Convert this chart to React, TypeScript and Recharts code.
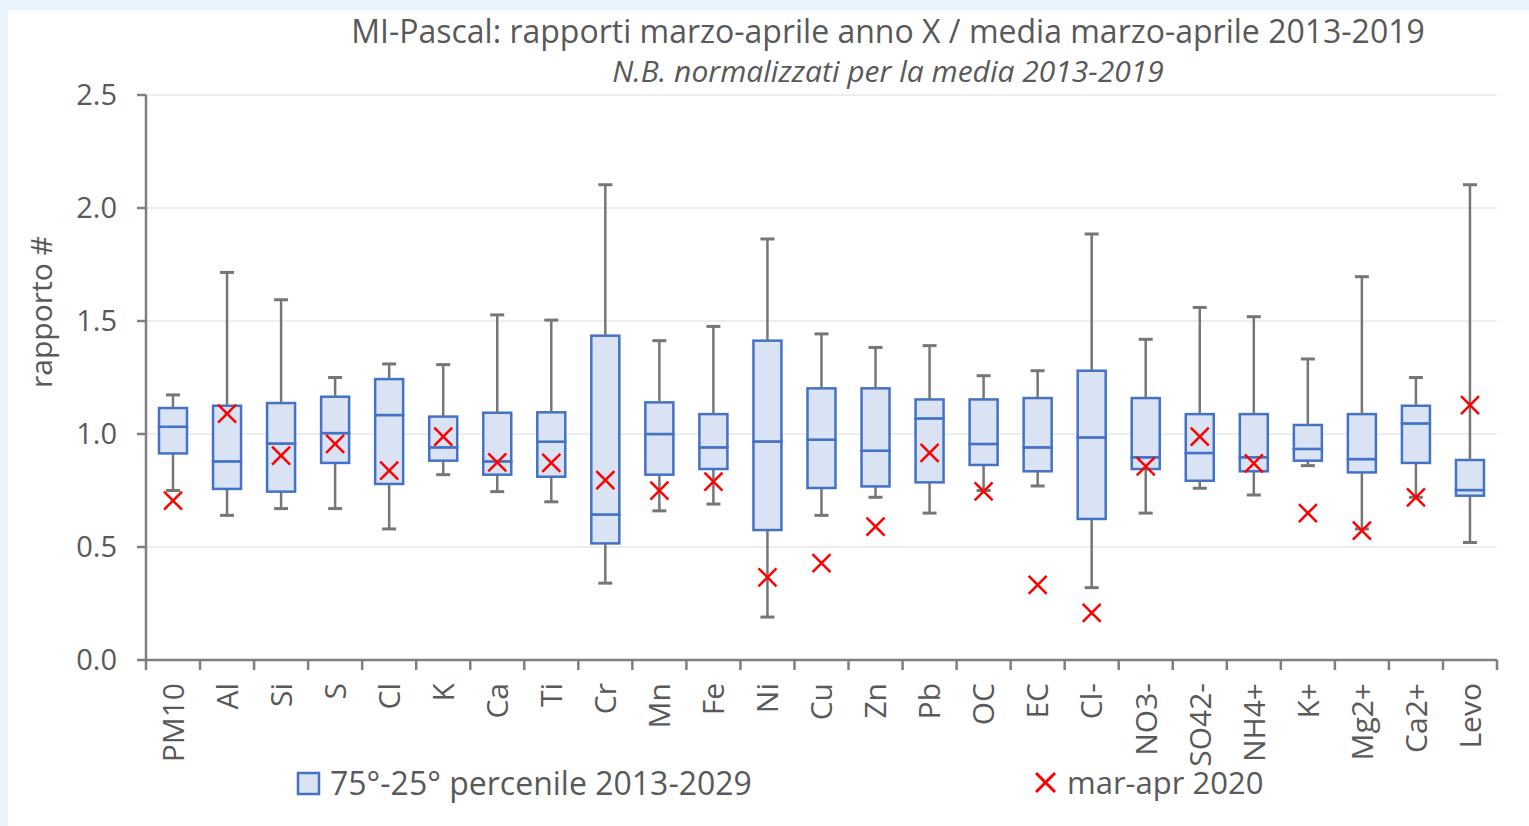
import React from 'react';
import { ComposedChart, Bar, Scatter, XAxis, YAxis, CartesianGrid } from 'recharts';

const categories = ['PM10', 'Al', 'Si', 'S', 'Cl', 'K', 'Ca', 'Ti', 'Cr', 'Mn', 'Fe', 'Ni', 'Cu', 'Zn', 'Pb', 'OC', 'EC', 'Cl-', 'NO3-', 'SO42-', 'NH4+', 'K+', 'Mg2+', 'Ca2+', 'Levo'];
const whiskerMin = [0.75, 0.64, 0.67, 0.67, 0.58, 0.82, 0.745, 0.7, 0.34, 0.66, 0.69, 0.19, 0.64, 0.72, 0.65, 0.75, 0.77, 0.32, 0.65, 0.76, 0.73, 0.86, 0.58, 0.72, 0.52];
const q1 = [0.914, 0.757, 0.745, 0.872, 0.779, 0.882, 0.82, 0.811, 0.516, 0.82, 0.845, 0.575, 0.761, 0.768, 0.786, 0.863, 0.835, 0.624, 0.845, 0.793, 0.835, 0.882, 0.83, 0.872, 0.727];
const median = [1.032, 0.879, 0.958, 1.004, 1.084, 0.941, 0.879, 0.966, 0.644, 1.0, 0.941, 0.967, 0.975, 0.926, 1.069, 0.956, 0.941, 0.985, 0.897, 0.916, 0.897, 0.934, 0.889, 1.047, 0.752];
const q3 = [1.115, 1.125, 1.137, 1.165, 1.243, 1.077, 1.094, 1.096, 1.435, 1.14, 1.088, 1.413, 1.202, 1.202, 1.153, 1.153, 1.159, 1.28, 1.159, 1.088, 1.088, 1.04, 1.088, 1.125, 0.885];
const whiskerMax = [1.173, 1.715, 1.594, 1.25, 1.31, 1.307, 1.527, 1.504, 2.103, 1.413, 1.476, 1.863, 1.443, 1.383, 1.391, 1.258, 1.28, 1.885, 1.419, 1.56, 1.519, 1.332, 1.696, 1.25, 2.103];
const marApr2020 = [0.705, 1.09, 0.904, 0.956, 0.838, 0.988, 0.874, 0.872, 0.796, 0.749, 0.789, 0.366, 0.429, 0.59, 0.916, 0.746, 0.332, 0.209, 0.857, 0.988, 0.87, 0.65, 0.572, 0.72, 1.128];
const yTicks = [0, 0.5, 1, 1.5, 2, 2.5];

const TITLE = 'MI-Pascal: rapporti marzo-aprile anno X / media marzo-aprile 2013-2019';
const SUBTITLE = 'N.B. normalizzati per la media 2013-2019';
const LEGEND_BOX = '75°-25° percenile 2013-2029';
const LEGEND_X = 'mar-apr 2020';
const Y_LABEL = 'rapporto #';

const data = categories.map((name, i) => ({
  name,
  base: whiskerMin[i],
  wLow: q1[i] - whiskerMin[i],
  boxLow: median[i] - q1[i],
  boxHigh: q3[i] - median[i],
  wHigh: whiskerMax[i] - q3[i],
  x2020: marApr2020[i],
}));

const W = 1529;
const H = 826;
const FONT = '"Open Sans", sans-serif';
const TXT = '#595959';
const AXIS = '#7f7f7f';
const WHISK = '#767676';
const BOX_STROKE = '#4472c4';
const BOX_FILL = '#dae3f3';
const RED = '#ff0000';
const TICK_SIZE = 10;
const TICK_MARGIN = 13;

const WhiskerLow = (p: any) => {
  const cx = p.x + p.width / 2;
  const bottom = p.y + p.height;
  return (
    <g>
      <line x1={cx} y1={p.y} x2={cx} y2={bottom} stroke={WHISK} strokeWidth={2.5} />
      <line x1={cx - 7} y1={bottom} x2={cx + 7} y2={bottom} stroke={WHISK} strokeWidth={3} />
    </g>
  );
};

const WhiskerHigh = (p: any) => {
  const cx = p.x + p.width / 2;
  return (
    <g>
      <line x1={cx} y1={p.y} x2={cx} y2={p.y + p.height} stroke={WHISK} strokeWidth={2.5} />
      <line x1={cx - 7} y1={p.y} x2={cx + 7} y2={p.y} stroke={WHISK} strokeWidth={3} />
    </g>
  );
};

const BoxPart = (p: any) => (
  <rect x={p.x} y={p.y} width={p.width} height={Math.max(p.height, 0)} fill={BOX_FILL} stroke={BOX_STROKE} strokeWidth={2.5} />
);

const XMark = (p: any) => {
  const { cx, cy } = p;
  const s = 9;
  return (
    <g>
      <line x1={cx - s} y1={cy - s} x2={cx + s} y2={cy + s} stroke={RED} strokeWidth={2.5} />
      <line x1={cx - s} y1={cy + s} x2={cx + s} y2={cy - s} stroke={RED} strokeWidth={2.5} />
    </g>
  );
};

const XTick = (p: any) => {
  const { x, y, payload, index } = p;
  const half = payload && payload.offset ? payload.offset : 27;
  const axisY = y - TICK_SIZE - TICK_MARGIN;
  return (
    <g>
      <line x1={x - half} y1={axisY} x2={x - half} y2={axisY + TICK_SIZE} stroke={AXIS} strokeWidth={2.5} />
      {index === categories.length - 1 && (
        <line x1={x + half} y1={axisY} x2={x + half} y2={axisY + TICK_SIZE} stroke={AXIS} strokeWidth={2.5} />
      )}
      <text
        x={x}
        y={y}
        dy="0.36em"
        textAnchor="end"
        transform={`rotate(-90, ${x}, ${y})`}
        fill={TXT}
        fontSize={30}
        fontFamily={FONT}
      >
        {payload.value}
      </text>
    </g>
  );
};

export default function App() {
  return (
    <div style={{ position: 'absolute', left: 0, top: 0, width: W, height: H, background: '#e9f4fc', overflow: 'hidden', fontFamily: FONT }}>
      <div style={{ position: 'absolute', left: 8, top: 10, width: W - 8, height: H - 10, background: '#ffffff' }} />
      <div style={{ position: 'absolute', left: 0, top: 0 }}>
        <ComposedChart width={W} height={H} data={data} margin={{ top: 95, right: 32, bottom: 66, left: 86 }}>
          <CartesianGrid vertical={false} stroke="#dcdcdc" strokeWidth={1} />
          <XAxis
            dataKey="name"
            type="category"
            height={100}
            interval={0}
            axisLine={{ stroke: AXIS, strokeWidth: 2.5 }}
            tickLine={false}
            tickSize={TICK_SIZE}
            tickMargin={TICK_MARGIN}
            tick={<XTick />}
          />
          <YAxis
            type="number"
            domain={[0, 2.5]}
            ticks={yTicks}
            width={60}
            interval={0}
            axisLine={{ stroke: AXIS, strokeWidth: 2.5 }}
            tickLine={{ stroke: AXIS, strokeWidth: 2.5 }}
            tickSize={9}
            tickMargin={20}
            tickFormatter={(v: number) => v.toFixed(1)}
            tick={{ fill: TXT, fontSize: 29, fontFamily: FONT }}
          />
          <Bar dataKey="base" stackId="a" barSize={28} fill="none" isAnimationActive={false} shape={() => <g />} />
          <Bar dataKey="wLow" stackId="a" barSize={28} isAnimationActive={false} shape={<WhiskerLow />} />
          <Bar dataKey="boxLow" stackId="a" barSize={28} isAnimationActive={false} shape={<BoxPart />} />
          <Bar dataKey="boxHigh" stackId="a" barSize={28} isAnimationActive={false} shape={<BoxPart />} />
          <Bar dataKey="wHigh" stackId="a" barSize={28} isAnimationActive={false} shape={<WhiskerHigh />} />
          <Scatter dataKey="x2020" isAnimationActive={false} shape={<XMark />} />
        </ComposedChart>
      </div>
      <svg width={W} height={H} style={{ position: 'absolute', left: 0, top: 0, pointerEvents: 'none' }}>
        <text x={888} y={43} textAnchor="middle" fill={TXT} fontSize={32} fontFamily={FONT}>{TITLE}</text>
        <text x={888} y={82} textAnchor="middle" fill={TXT} fontSize={30} fontStyle="italic" fontFamily={FONT}>{SUBTITLE}</text>
        <text x={41} y={312} textAnchor="middle" dy="0.36em" transform="rotate(-90, 41, 312)" fill={TXT} fontSize={30} fontFamily={FONT}>{Y_LABEL}</text>
        <rect x={298} y={773} width={21} height={21} fill={BOX_FILL} stroke={BOX_STROKE} strokeWidth={2.5} />
        <text x={330} y={795} fill={TXT} fontSize={32} fontFamily={FONT}>{LEGEND_BOX}</text>
        <line x1={1036} y1={773} x2={1055} y2={792} stroke={RED} strokeWidth={3} />
        <line x1={1036} y1={792} x2={1055} y2={773} stroke={RED} strokeWidth={3} />
        <text x={1067} y={794} fill={TXT} fontSize={31} fontFamily={FONT}>{LEGEND_X}</text>
      </svg>
    </div>
  );
}
